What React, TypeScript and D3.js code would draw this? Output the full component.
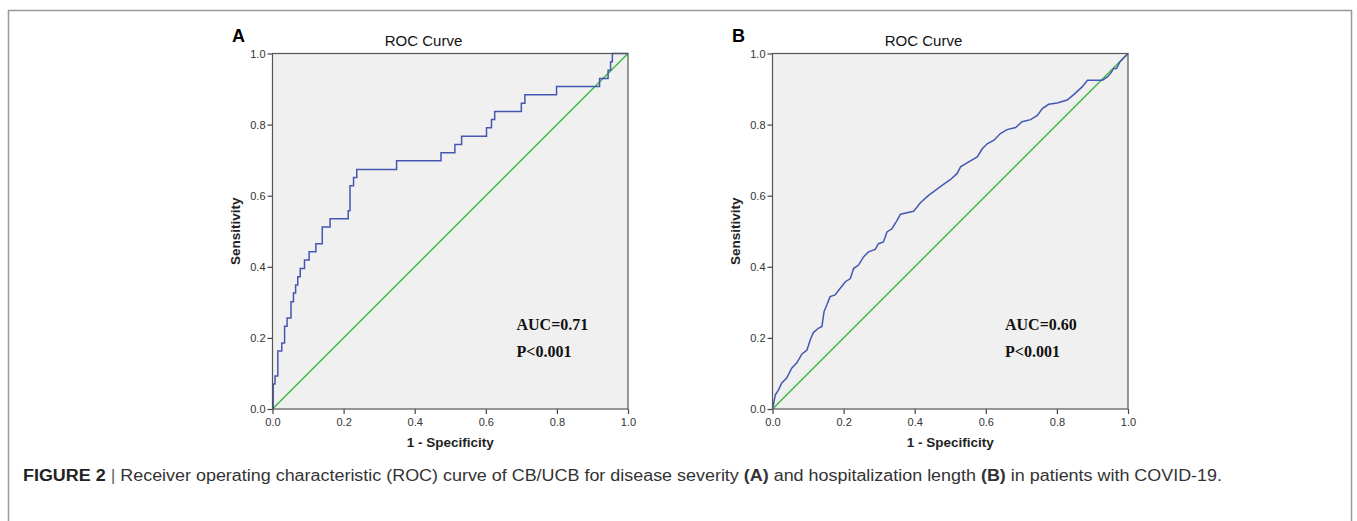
import React, { useEffect, useRef } from "react";
import * as d3 from "d3";

// panel A: CB/UCB vs disease severity (step ROC)
const fprA = [0, 0.002, 0.007, 0.015, 0.026, 0.034, 0.041, 0.052, 0.059, 0.065, 0.071, 0.078, 0.09, 0.103, 0.122, 0.14, 0.162, 0.213, 0.218, 0.228, 0.237, 0.349, 0.474, 0.513, 0.532, 0.602, 0.616, 0.625, 0.7, 0.71, 0.799, 0.92, 0.944, 0.951, 0.956, 1.0];
const tprA = [0, 0.07, 0.093, 0.163, 0.186, 0.233, 0.256, 0.302, 0.326, 0.349, 0.372, 0.395, 0.419, 0.442, 0.465, 0.512, 0.535, 0.558, 0.628, 0.651, 0.674, 0.698, 0.721, 0.744, 0.767, 0.791, 0.814, 0.837, 0.86, 0.884, 0.907, 0.93, 0.953, 0.977, 1.0, 1.0];

// panel B: CB/UCB vs hospitalization length
const fprB = [0, 0.008, 0.017, 0.026, 0.04, 0.054, 0.068, 0.083, 0.097, 0.106, 0.115, 0.129, 0.139, 0.145, 0.153, 0.162, 0.176, 0.19, 0.205, 0.219, 0.228, 0.242, 0.256, 0.27, 0.289, 0.298, 0.312, 0.322, 0.336, 0.35, 0.36, 0.378, 0.397, 0.416, 0.439, 0.458, 0.477, 0.5, 0.519, 0.529, 0.552, 0.576, 0.59, 0.604, 0.623, 0.641, 0.66, 0.684, 0.702, 0.726, 0.745, 0.759, 0.777, 0.801, 0.829, 0.848, 0.871, 0.886, 0.928, 0.942, 0.951, 0.96, 0.968, 0.977, 1.0];
const tprB = [0, 0.04, 0.054, 0.073, 0.087, 0.115, 0.129, 0.155, 0.166, 0.194, 0.215, 0.227, 0.232, 0.274, 0.293, 0.316, 0.321, 0.339, 0.358, 0.367, 0.395, 0.405, 0.428, 0.442, 0.449, 0.465, 0.47, 0.498, 0.507, 0.53, 0.548, 0.552, 0.556, 0.58, 0.601, 0.615, 0.629, 0.645, 0.662, 0.681, 0.695, 0.709, 0.732, 0.746, 0.756, 0.775, 0.786, 0.792, 0.808, 0.814, 0.826, 0.845, 0.857, 0.861, 0.869, 0.885, 0.906, 0.925, 0.925, 0.934, 0.944, 0.958, 0.958, 0.976, 1.0];

const axisTicks = [0, 0.2, 0.4, 0.6, 0.8, 1.0];
const panelLetters = ["A", "B"];
const aucLabels = ["AUC=0.71", "AUC=0.60"];
const pLabels = ["P<0.001", "P<0.001"];
const chartTitle = "ROC Curve";
const xTitle = "1 - Specificity";
const yTitle = "Sensitivity";

const W = 1357;
const H = 521;
const SIZE = 355.5;
const TOP = 53.5;
const panels = [
  { left: 272.5, fpr: fprA, tpr: tprA, stepped: true, aucDx: 244 },
  { left: 772.5, fpr: fprB, tpr: tprB, stepped: false, aucDx: 232.5 },
];

const SANS = "Arial, 'Liberation Sans', Helvetica, sans-serif";
const SERIF = "'Times New Roman', 'Liberation Serif', serif";

function RocPanel({ index }: { index: number }) {
  const ref = useRef<SVGGElement>(null);
  const p = panels[index];

  useEffect(() => {
    const g = d3.select(ref.current);
    g.selectAll("*").remove();
    const x = d3.scaleLinear().domain([0, 1]).range([p.left, p.left + SIZE]);
    const y = d3.scaleLinear().domain([0, 1]).range([TOP + SIZE, TOP]);

    g.append("rect")
      .attr("x", x(0))
      .attr("y", y(1))
      .attr("width", SIZE)
      .attr("height", SIZE)
      .attr("fill", "#f0f0f0");

    const yAxis = d3
      .axisLeft(y)
      .tickValues(axisTicks)
      .tickFormat(d3.format(".1f"))
      .tickSize(5)
      .tickSizeOuter(0)
      .tickPadding(2);
    const xAxis = d3
      .axisBottom(x)
      .tickValues(axisTicks)
      .tickFormat(d3.format(".1f"))
      .tickSize(5)
      .tickSizeOuter(0)
      .tickPadding(4);

    const ya = g.append("g").attr("transform", `translate(${x(0)},0)`).call(yAxis);
    const xa = g.append("g").attr("transform", `translate(0,${y(0)})`).call(xAxis);
    [ya, xa].forEach((a) => {
      a.select(".domain").remove();
      a.selectAll("line").attr("stroke", "#444").attr("stroke-width", 1.2);
      a.selectAll("text")
        .attr("fill", "#333")
        .style("font-family", SANS)
        .style("font-size", "11px");
    });

    // diagonal reference
    g.append("line")
      .attr("x1", x(0))
      .attr("y1", y(0))
      .attr("x2", x(1))
      .attr("y2", y(1))
      .attr("stroke", "#3cb83c")
      .attr("stroke-width", 1.4);

    const pts = p.fpr.map((f, i) => [f, p.tpr[i]] as [number, number]);
    const rocLine = d3
      .line<[number, number]>()
      .x((d) => x(d[0]))
      .y((d) => y(d[1]))
      .curve(p.stepped ? d3.curveStepAfter : d3.curveLinear);
    g.append("path")
      .attr("d", rocLine(pts))
      .attr("fill", "none")
      .attr("stroke", "#4557b2")
      .attr("stroke-width", 1.5);

    g.append("rect")
      .attr("x", x(0))
      .attr("y", y(1))
      .attr("width", SIZE)
      .attr("height", SIZE)
      .attr("fill", "none")
      .attr("stroke", "#555")
      .attr("stroke-width", 1.2);

    g.append("text")
      .attr("x", p.left - 40.5)
      .attr("y", 42)
      .attr("font-family", SANS)
      .attr("font-weight", "bold")
      .attr("font-size", 18)
      .text(panelLetters[index]);

    g.append("text")
      .attr("x", p.left + 151)
      .attr("y", 46)
      .attr("text-anchor", "middle")
      .attr("font-family", SANS)
      .attr("font-size", 15)
      .attr("fill", "#111")
      .text(chartTitle);

    g.append("text")
      .attr("x", p.left + SIZE / 2)
      .attr("y", 447)
      .attr("text-anchor", "middle")
      .attr("font-family", SANS)
      .attr("font-weight", "bold")
      .attr("font-size", 13.5)
      .attr("fill", "#222")
      .text(xTitle);

    g.append("text")
      .attr("transform", `translate(${p.left - 33},${TOP + SIZE / 2}) rotate(-90)`)
      .attr("text-anchor", "middle")
      .attr("font-family", SANS)
      .attr("font-weight", "bold")
      .attr("font-size", 13.5)
      .attr("fill", "#222")
      .text(yTitle);

    g.append("text")
      .attr("x", p.left + p.aucDx)
      .attr("y", 330)
      .attr("font-family", SERIF)
      .attr("font-weight", "bold")
      .attr("font-size", 16)
      .attr("fill", "#111")
      .text(aucLabels[index]);
    g.append("text")
      .attr("x", p.left + p.aucDx)
      .attr("y", 357)
      .attr("font-family", SERIF)
      .attr("font-weight", "bold")
      .attr("font-size", 16)
      .attr("fill", "#111")
      .text(pLabels[index]);
  }, [index]);

  return <g ref={ref} />;
}

export default function App() {
  return (
    <svg
      width={W}
      height={H}
      style={{ position: "absolute", left: 0, top: 0, background: "#fff" }}
    >
      <rect x={8.5} y={10.5} width={1343} height={530} fill="none" stroke="#999" strokeWidth={1.5} />
      <RocPanel index={0} />
      <RocPanel index={1} />
      <text
        x={23}
        y={481}
        fontFamily={SANS}
        fontSize={16}
        fill="#333"
        textLength={1199}
        lengthAdjust="spacingAndGlyphs"
      >
        <tspan fontWeight="bold" fill="#222">FIGURE 2</tspan>
        <tspan fill="#666"> | </tspan>
        <tspan>Receiver operating characteristic (ROC) curve of CB/UCB for disease severity </tspan>
        <tspan fontWeight="bold">(A)</tspan>
        <tspan> and hospitalization length </tspan>
        <tspan fontWeight="bold">(B)</tspan>
        <tspan> in patients with COVID-19.</tspan>
      </text>
    </svg>
  );
}
